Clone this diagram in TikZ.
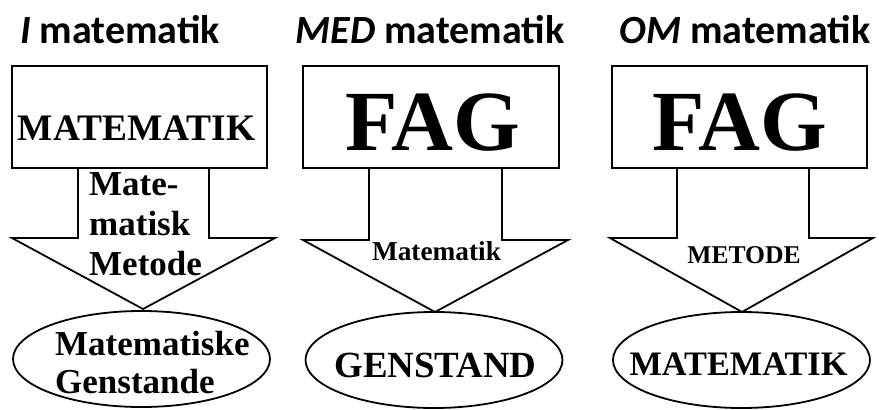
\documentclass[tikz,border=0pt]{standalone}
\usepackage{fontspec}
\setmainfont{Liberation Serif}
\newfontfamily\titlefont{Carlito}
\usetikzlibrary{shapes.geometric}
\tikzset{
  box/.style={draw, line width=2pt, rectangle, inner sep=0pt},
  oval/.style={draw, line width=1.8pt, ellipse, inner sep=0pt, minimum width=257pt, minimum height=96pt},
  blockarrow/.style={draw, line width=1.8pt, line join=miter},
  ttl/.style={anchor=base, inner sep=0pt, font=\titlefont\bfseries\fontsize{40}{48}\selectfont},
  txt/.style={inner sep=0pt, font=\bfseries}
}
\begin{document}
\begin{tikzpicture}[x=1pt,y=-1pt]
\useasboundingbox (0,0) rectangle (879,410);
% titles
\node[ttl] (t1) at (120,43) {\itshape I\upshape\ matematik};
\node[ttl] (t2) at (430,43) {\itshape MED\upshape\ matematik};
\node[ttl] (t3) at (745,43) {\itshape OM\upshape\ matematik};
% panel 1
\node[box, minimum width=255pt, minimum height=102pt] (b1) at (139.5,117) {};
\node[txt, anchor=base, font=\bfseries\fontsize{37.4}{40}\selectfont] (b1t) at (136.5,140) {MATEMATIK};
\draw[blockarrow] (b1.south -| 78,0) -- (78,238) -- (12,238) -- (143,309) -- (275,238) -- (209,238) -- (b1.south -| 209,0);
\node[txt, anchor=base west, font=\bfseries\fontsize{35}{40}\selectfont] (a1a) at (89,195) {Mate-};
\node[txt, anchor=base west, font=\bfseries\fontsize{35}{40}\selectfont] (a1b) at (89,235) {matisk};
\node[txt, anchor=base west, font=\bfseries\fontsize{35}{40}\selectfont] (a1c) at (89,275) {Metode};
\node[oval] (e1) at (141.5,359) {};
\node[txt, anchor=base west, font=\bfseries\fontsize{35}{40}\selectfont] (e1a) at (55,355) {Matematiske};
\node[txt, anchor=base west, font=\bfseries\fontsize{35}{40}\selectfont] (e1b) at (55,393) {Genstande};
% panel 2
\node[box, minimum width=256pt, minimum height=102pt] (b2) at (431,117) {};
\node[txt, anchor=base, font=\bfseries\fontsize{85.7}{90}\selectfont] (b2t) at (432.5,150) {FAG};
\draw[blockarrow] (b2.south -| 369,0) -- (369,240) -- (303,240) -- (435,312) -- (568,240) -- (502,240) -- (b2.south -| 502,0);
\node[txt, anchor=base, font=\bfseries\fontsize{27.3}{30}\selectfont] (a2) at (436.5,260) {Matematik};
\node[oval] (e2) at (434,360) {};
\node[txt, anchor=base, font=\bfseries\fontsize{36.9}{40}\selectfont] (e2t) at (435.5,377) {GENSTAND};
% panel 3
\node[box, minimum width=255pt, minimum height=102pt] (b3) at (739.5,117) {};
\node[txt, anchor=base, font=\bfseries\fontsize{85.7}{90}\selectfont] (b3t) at (740,150) {FAG};
\draw[blockarrow] (b3.south -| 677,0) -- (677,238) -- (610,238) -- (742,312) -- (873,238) -- (809,238) -- (b3.south -| 809,0);
\node[txt, anchor=base, font=\bfseries\fontsize{25.6}{30}\selectfont] (a3) at (744,263) {METODE};
\node[oval] (e3) at (741.5,360) {};
\node[txt, anchor=base, font=\bfseries\fontsize{34.3}{40}\selectfont] (e3t) at (738.5,375) {MATEMATIK};
\end{tikzpicture}
\end{document}
